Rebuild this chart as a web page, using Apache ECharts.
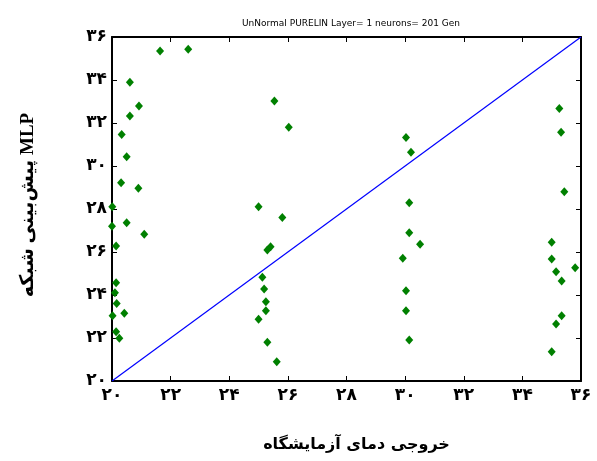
<!DOCTYPE html>
<html>
<head>
<meta charset="utf-8">
<script src="https://cdn.jsdelivr.net/npm/echarts@6/dist/echarts.min.js"></script>
<style>
  html, body { margin: 0; padding: 0; background: #fff; }
  #chart { width: 597px; height: 461px; }
</style>
</head>
<body>
<div id="chart"></div>
<script>
// Measured lab temperatures (x) against MLP network predictions (y)
const measured = [
  21.64, 22.60, 20.61, 20.92, 20.61, 20.33, 20.50, 20.31, 20.90, 20.01,
  20.00, 20.50, 21.10, 20.14, 20.14, 20.10, 20.16, 20.02, 20.42, 20.14, 20.25,
  25.54, 26.03, 25.00, 25.81, 25.41, 25.30, 25.13, 25.19, 25.25, 25.25, 25.00, 25.30, 25.62,
  30.03, 30.20, 30.14, 30.14, 30.51, 29.92, 30.03, 30.03, 30.14,
  35.26, 35.32, 35.43, 35.00, 35.00, 35.15, 35.34, 35.80, 35.34, 35.15, 35.00
];
const predicted = [
  35.35, 35.43, 33.89, 32.79, 32.33, 31.47, 30.43, 29.22, 28.96, 28.10,
  27.20, 27.36, 26.82, 26.28, 24.57, 24.11, 23.61, 23.04, 23.15, 22.29, 21.99,
  33.02, 31.80, 28.10, 27.60, 26.25, 26.09, 24.82, 24.28, 23.69, 23.27, 22.87, 21.80, 20.90,
  31.33, 30.64, 28.29, 26.90, 26.36, 25.71, 24.20, 23.27, 21.91,
  32.68, 31.57, 28.80, 26.45, 25.67, 25.08, 24.65, 25.27, 23.04, 22.65, 21.36
];
// Ideal fit line y = x
const idealLine = [[20, 20], [36, 36]];
const axisMin = 20, axisMax = 36, axisStep = 2;

const chartTitle = 'UnNormal PURELIN Layer= 1 neurons= 201 Gen';
const xTitle = 'خروجی دمای آزمایشگاه';
const yTitle = 'پیش‌بینی شبکه MLP';

const faDigits = '۰۱۲۳۴۵۶۷۸۹';
const toFa = v => String(v).replace(/[0-9]/g, d => faDigits[+d]);

const points = measured.map((x, i) => [x, predicted[i]]);

const labelFont = { color: '#000', fontWeight: 'bold', fontSize: 17, fontFamily: 'DejaVu Sans' };

function makeAxis(pos, showLabel, extra) {
  return Object.assign({
    type: 'value', position: pos,
    min: axisMin, max: axisMax, interval: axisStep,
    axisLine: { show: true, onZero: false, lineStyle: { color: '#000', width: 2 } },
    axisTick: { show: true, inside: true, length: 5, lineStyle: { color: '#000', width: 1 } },
    axisLabel: showLabel ? Object.assign({ formatter: v => toFa(v) }, labelFont) : { show: false },
    splitLine: { show: false }
  }, extra || {});
}

const chart = echarts.init(document.getElementById('chart'), null, { renderer: 'canvas' });
chart.setOption({
  backgroundColor: '#fff',
  animation: false,
  title: {
    text: chartTitle, left: 346, top: 14, textAlign: 'center',
    textStyle: { fontSize: 9, fontWeight: 'normal', color: '#000', fontFamily: 'DejaVu Sans' }
  },
  grid: { left: 112, right: 16, top: 37, bottom: 80 },
  xAxis: [
    makeAxis('bottom', true, {
      name: xTitle, nameLocation: 'middle', nameGap: 56,
      nameTextStyle: { fontSize: 16, fontWeight: 'bold', color: '#000', fontFamily: 'DejaVu Sans', padding: [0, 0, 0, 20] },
      axisLabel: Object.assign({ formatter: v => toFa(v), margin: 6 }, labelFont)
    }),
    makeAxis('top', false)
  ],
  yAxis: [
    makeAxis('left', true, {
      name: yTitle, nameLocation: 'middle', nameGap: 74, nameRotate: 90,
      nameTextStyle: { fontSize: 19, fontWeight: 'bold', color: '#000', fontFamily: 'Liberation Serif, DejaVu Sans', padding: [0, 0, 0, 8] },
      axisLabel: Object.assign({ formatter: v => toFa(v), margin: 5 }, labelFont)
    }),
    makeAxis('right', false)
  ],
  series: [
    {
      type: 'line', data: idealLine, xAxisIndex: 0, yAxisIndex: 0,
      showSymbol: false, symbol: 'none',
      lineStyle: { color: '#0000ff', width: 1.2 }, z: 2
    },
    {
      type: 'scatter', data: points, xAxisIndex: 0, yAxisIndex: 0,
      symbol: 'diamond', symbolSize: [8, 9], clip: false,
      itemStyle: { color: '#008000', opacity: 1 }, z: 3
    }
  ]
});
</script>
</body>
</html>
